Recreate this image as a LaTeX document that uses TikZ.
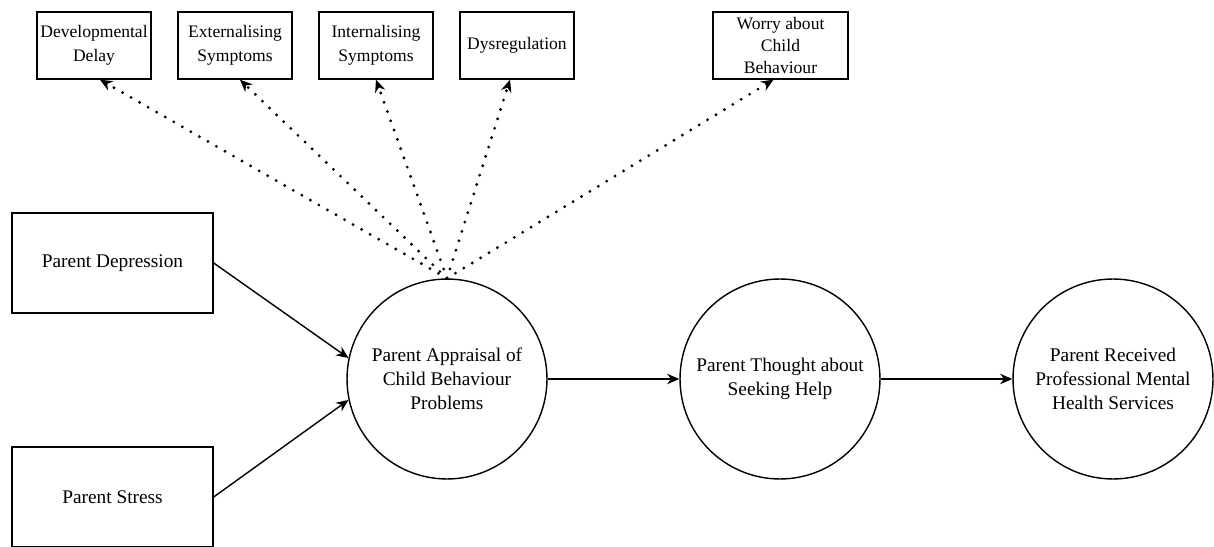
\documentclass[tikz,border=0pt]{standalone}
\usepackage{fontspec}
\setmainfont{LiberationSerif}[Extension=.ttf, UprightFont=*-Regular, BoldFont=*-Bold]
\usetikzlibrary{arrows.meta}

\tikzset{
  outcome/.style={draw, thick, align=center, minimum width=2.28cm, minimum height=1.34cm,
    inner sep=1pt, font=\fontsize{10}{13.5}\selectfont},
  predictor/.style={draw, thick, align=center, minimum width=4.02cm, minimum height=2cm,
    font=\fontsize{11}{13.5}\selectfont},
  stage/.style={draw, thick, circle, align=center, minimum size=4cm, inner sep=0pt,
    font=\fontsize{11}{13.5}\selectfont},
  link/.style={arrows={-Stealth[length=7pt,width=6pt]}, thick},
  indicator/.style={arrows={-Stealth[length=7pt,width=6pt]}, thick,
    dash pattern=on 0pt off 5.6pt, line cap=round, line width=1.8pt},
}

\begin{document}
\begin{tikzpicture}[x=0.02cm,y=-0.02cm]

    \useasboundingbox (0,0) rectangle (1214,547);

    \node[outcome] (dd)  at (94,45.5)    {Developmental\\Delay};
    \node[outcome] (ext) at (235,45.5)   {Externalising\\Symptoms};
    \node[outcome] (int) at (376,45.5)   {Internalising\\Symptoms};
    \node[outcome] (dys) at (517,45.5)   {Dysregulation};
    \node[outcome, minimum width=2.7cm, font=\fontsize{10}{12.5}\selectfont] (wor) at (780.5,45.5) {Worry about\\Child\\Behaviour};

    \node[predictor] (dep) at (112.5,263) {Parent Depression};
    \node[predictor] (str) at (112.5,497) {Parent Stress};

    \node[stage] (app) at (447,379)  {Parent Appraisal of\\Child Behaviour\\Problems};
    \node[stage] (pth) at (780,379)  {Parent Thought about\\Seeking Help};
    \node[stage] (prs) at (1113,379) {Parent Received\\Professional Mental\\Health Services};

    \draw[link] (dep.east) to (app.168);
    \draw[link] (str.east) to (app.192);
    \draw[link] (app.east) to (pth.west);
    \draw[link] (pth.east) to (prs.west);

    \draw[indicator] (app.north) to ([xshift=0.12cm]dd.south);
    \draw[indicator] (app.north) to ([xshift=0.1cm]ext.south);
    \draw[indicator] (app.north) to (int.south);
    \draw[indicator] (app.north) to ([xshift=-0.14cm]dys.south);
    \draw[indicator] (app.north) to ([xshift=-0.14cm]wor.south);

  \end{tikzpicture}
\end{document}
